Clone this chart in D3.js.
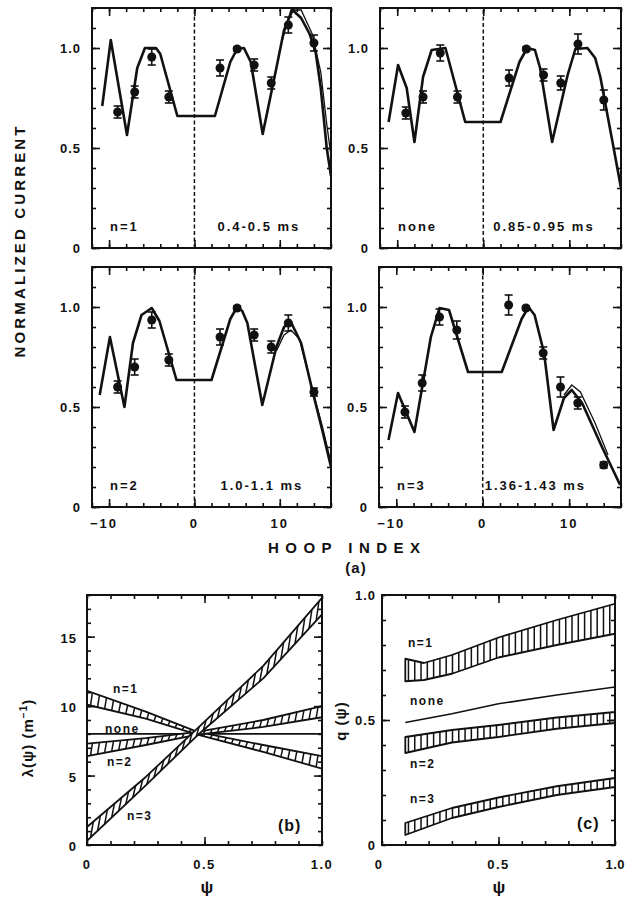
<!DOCTYPE html>
<html>
<head>
<meta charset="utf-8">
<script src="https://cdn.jsdelivr.net/npm/d3@7"></script>
<style>
  body { margin: 0; background: #fff; }
  svg { display: block; }
  text { font-family: "Liberation Sans", Arial, sans-serif; font-weight: bold; fill: #111; }
</style>
</head>
<body>
<svg id="fig" width="626" height="906"></svg>
<script>
// ---- panel (a): normalized current vs hoop index ----
var hoops = [-9, -7, -5, -3, 3, 5, 7, 9, 11, 14];

var measN1   = [0.68, 0.78, 0.955, 0.755, 0.90, 0.995, 0.915, 0.825, 1.115, 1.025];
var errN1    = [0.03, 0.03, 0.04, 0.03, 0.04, 0.01, 0.03, 0.03, 0.04, 0.04];
var measNone = [0.675, 0.755, 0.975, 0.755, 0.85, 0.995, 0.865, 0.825, 1.02, 0.74];
var errNone  = [0.03, 0.03, 0.04, 0.03, 0.04, 0.01, 0.03, 0.035, 0.05, 0.05];
var measN2   = [0.60, 0.70, 0.935, 0.735, 0.85, 0.995, 0.86, 0.80, 0.92, 0.575];
var errN2    = [0.03, 0.04, 0.04, 0.03, 0.04, 0.01, 0.03, 0.03, 0.04, 0.02];
var measN3   = [0.475, 0.62, 0.95, 0.885, 1.01, 0.995, 0.77, 0.60, 0.52, 0.21];
var errN3    = [0.03, 0.04, 0.04, 0.045, 0.05, 0.01, 0.03, 0.05, 0.03, 0.015];

// fitted profiles [hoop, current]
var fitN1 = [[-10.8,0.71],[-9.8,1.04],[-7.9,0.565],[-6.7,0.9],[-5.8,1.0],[-4.5,1.0],[-4.0,0.97],[-2.0,0.66],
  [2.4,0.66],[4.2,0.93],[5.0,0.995],[5.8,1.0],[6.6,0.93],[8.0,0.57],[9.6,0.9],[10.5,1.09],[11.5,1.19],[12.5,1.15],
  [13.5,1.07],[14.2,0.98],[14.8,0.8],[15.5,0.5],[16,0.36]];
var altN1 = [[10.3,1.04],[11.3,1.19],[12.5,1.19],[13.8,1.07],[14.8,0.88],[15.5,0.62],[16,0.46]];
var fitNone = [[-11.0,0.63],[-9.9,0.915],[-8.9,0.8],[-8.0,0.53],[-7.0,0.855],[-6.0,0.99],[-4.4,1.0],[-2.1,0.63],
  [2.0,0.63],[4.2,0.93],[5.1,1.0],[6.0,0.99],[6.6,0.9],[8.0,0.53],[9.8,0.865],[10.7,0.995],[12.1,1.0],[13.0,0.95],
  [13.6,0.855],[15.1,0.51],[16,0.3]];
var fitN2 = [[-11.1,0.56],[-9.9,0.85],[-8.2,0.5],[-7.2,0.82],[-6.2,0.96],[-5.0,0.995],[-4.1,0.93],[-2.1,0.635],
  [2.0,0.635],[4.2,0.94],[5.0,1.0],[5.6,0.98],[6.2,0.92],[7.95,0.51],[9.6,0.8],[10.5,0.9],[11.3,0.925],[12.5,0.82],
  [13.8,0.585],[15,0.38],[16,0.2]];
var altN2 = [[9.6,0.78],[10.5,0.86],[11.3,0.885],[12.3,0.84],[13.5,0.64],[15,0.4],[16,0.22]];
var fitN3 = [[-10.9,0.335],[-9.8,0.57],[-7.9,0.375],[-6.8,0.65],[-6.0,0.85],[-5.0,0.995],[-3.9,0.985],[-1.7,0.675],
  [2.2,0.675],[4.5,0.94],[5.3,1.0],[6.0,0.96],[7.1,0.77],[8.2,0.385],[9.4,0.545],[10.3,0.585],[11.5,0.52],[13.8,0.3],[15.9,0.11]];
var altN3 = [[9.4,0.56],[10.3,0.61],[11.3,0.575],[13,0.42],[14.5,0.26]];

var modeTags  = ["n=1", "none", "n=2", "n=3"];
var timeTags  = ["0.4-0.5 ms", "0.85-0.95 ms", "1.0-1.1 ms", "1.36-1.43 ms"];
var hoopTicks = [-10, 0, 10];
var curTicks  = [0, 0.5, 1.0];
var curTickText = ["0", "0.5", "1.0"];

// ---- panel (b): lambda(psi) bands ----
var psiB = [0, 0.25, 0.47, 0.75, 1.0];
var lamN1Up = [11.1, 9.6, 8.15, 7.2, 6.4],  lamN1Lo = [10.1, 9.1, 7.95, 6.7, 5.5];
var lamN2Up = [7.3, 7.7, 8.15, 9.0, 10.0],  lamN2Lo = [6.4, 7.2, 7.95, 8.5, 9.2];
var lamN3Up = [1.3, 4.9, 8.4, 12.9, 17.8],  lamN3Lo = [0.3, 4.3, 7.9, 12.0, 16.6];
var lamNone = [8.0, 8.0, 8.0, 8.0, 8.0];
var lamTicks = [0, 5, 10, 15];

// ---- panel (c): q(psi) bands ----
var psiC  = [0.1, 0.3, 0.5, 0.75, 1.0];
var psiC1 = [0.1, 0.18, 0.3, 0.5, 0.75, 1.0];
var qN1Up = [0.745, 0.728, 0.76, 0.83, 0.9, 0.965], qN1Lo = [0.655, 0.66, 0.685, 0.75, 0.8, 0.845];
var qN2Up = [0.432, 0.46, 0.48, 0.51, 0.532], qN2Lo = [0.368, 0.41, 0.432, 0.465, 0.488];
var qN3Up = [0.088, 0.148, 0.19, 0.235, 0.268], qN3Lo = [0.04, 0.108, 0.152, 0.2, 0.232];
var qNone = [0.49, 0.525, 0.565, 0.6, 0.632];
var qTicks = [0, 0.5, 1.0];
var psiTicks = [0, 0.5, 1.0];
var psiTickText = ["0", "0.5", "1.0"];

var svg = d3.select("#fig");
var INK = "#111";

function tickBox(g, x, y, xMinor, xMajor, yMinor, yMajor) {
  var xr = x.range(), yr = y.range();
  function add(axis, tr) {
    g.append("g").attr("transform", tr).call(axis)
      .call(function (s) { s.select(".domain").remove(); s.selectAll("text").remove(); })
      .call(function (s) { s.selectAll("line").attr("stroke", INK).attr("stroke-width", 1.6); });
  }
  add(d3.axisBottom(x).tickValues(xMinor).tickSize(-4), "translate(0," + yr[0] + ")");
  add(d3.axisBottom(x).tickValues(xMajor).tickSize(-8), "translate(0," + yr[0] + ")");
  add(d3.axisTop(x).tickValues(xMinor).tickSize(-4), "translate(0," + yr[1] + ")");
  add(d3.axisTop(x).tickValues(xMajor).tickSize(-8), "translate(0," + yr[1] + ")");
  add(d3.axisLeft(y).tickValues(yMinor).tickSize(-4), "translate(" + xr[0] + ",0)");
  add(d3.axisLeft(y).tickValues(yMajor).tickSize(-8), "translate(" + xr[0] + ",0)");
  add(d3.axisRight(y).tickValues(yMinor).tickSize(-4), "translate(" + xr[1] + ",0)");
  add(d3.axisRight(y).tickValues(yMajor).tickSize(-8), "translate(" + xr[1] + ",0)");
  g.append("rect").attr("x", xr[0]).attr("y", yr[1])
    .attr("width", xr[1] - xr[0]).attr("height", yr[0] - yr[1])
    .attr("fill", "none").attr("stroke", INK).attr("stroke-width", 2);
}

// ---------- top four panels ----------
var panels = [
  {box: [92, 331, 8, 248],   fit: fitN1,   alt: altN1, meas: measN1,   err: errN1,   timeDx: 23, labels: false},
  {box: [380, 621, 8, 248],  fit: fitNone, alt: null,  meas: measNone, err: errNone, timeDx: 10, labels: false},
  {box: [92, 331, 267, 507], fit: fitN2,   alt: altN2, meas: measN2,   err: errN2,   timeDx: 26, labels: true},
  {box: [379, 621, 267, 507], fit: fitN3,  alt: altN3, meas: measN3,   err: errN3,   timeDx: 2,  labels: true}
];

panels.forEach(function (p, i) {
  var g = svg.append("g");
  var x = d3.scaleLinear().domain([-12, 16]).range([p.box[0], p.box[1]]);
  var y = d3.scaleLinear().domain([0, 1.2]).range([p.box[3], p.box[2]]);
  var clipId = "clipA" + i;
  g.append("clipPath").attr("id", clipId).append("rect")
    .attr("x", p.box[0]).attr("y", p.box[2]).attr("width", p.box[1] - p.box[0]).attr("height", p.box[3] - p.box[2]);

  // dashed line at hoop 0
  g.append("line").attr("x1", x(0)).attr("x2", x(0)).attr("y1", y(0)).attr("y2", y(1.2))
    .attr("stroke", INK).attr("stroke-width", 1.5).attr("stroke-dasharray", "4,2.5");

  var line = d3.line().x(function (d) { return x(d[0]); }).y(function (d) { return y(d[1]); });
  var plot = g.append("g").attr("clip-path", "url(#" + clipId + ")");
  if (p.alt) {
    plot.append("path").attr("d", line(p.alt)).attr("fill", "none")
      .attr("stroke", INK).attr("stroke-width", 1.3);
  }
  plot.append("path").attr("d", line(p.fit)).attr("fill", "none")
    .attr("stroke", INK).attr("stroke-width", 2.6).attr("stroke-linejoin", "round");

  // measured points with error bars
  hoops.forEach(function (h, k) {
    var v = p.meas[k], e = p.err[k];
    plot.append("line").attr("x1", x(h)).attr("x2", x(h)).attr("y1", y(v - e)).attr("y2", y(v + e))
      .attr("stroke", INK).attr("stroke-width", 1.6);
    [v - e, v + e].forEach(function (c) {
      plot.append("line").attr("x1", x(h) - 4).attr("x2", x(h) + 4).attr("y1", y(c)).attr("y2", y(c))
        .attr("stroke", INK).attr("stroke-width", 1.6);
    });
    plot.append("circle").attr("cx", x(h)).attr("cy", y(v)).attr("r", 4.5).attr("fill", INK);
  });

  tickBox(g, x, y, d3.range(-12, 17, 2), hoopTicks, d3.range(0, 1.21, 0.1), curTicks);

  // y tick labels
  curTicks.forEach(function (t, k) {
    g.append("text").attr("x", p.box[0] - 11).attr("y", y(t) + 5)
      .attr("text-anchor", "end").style("font-size", "13px").style("letter-spacing", "1px")
      .text(curTickText[k]);
  });
  if (p.labels) {
    hoopTicks.forEach(function (t) {
      g.append("text").attr("x", x(t) + (t < 0 ? -5 : 0)).attr("y", p.box[3] + 21)
        .attr("text-anchor", "middle").style("font-size", "13px").style("letter-spacing", "2px")
        .text(t < 0 ? "\u2212" + Math.abs(t) : String(t));
    });
  }
  g.append("text").attr("x", p.box[0] + 18).attr("y", p.box[3] - 17)
    .style("font-size", "13px").style("letter-spacing", "2px").text(modeTags[i]);
  g.append("text").attr("x", x(0) + p.timeDx).attr("y", p.box[3] - 17)
    .style("font-size", "13px").style("letter-spacing", "2px").text(timeTags[i]);
});

svg.append("text").attr("transform", "translate(25,242) rotate(-90)")
  .attr("text-anchor", "middle").attr("textLength", 231).attr("lengthAdjust", "spacing")
  .style("font-size", "15px").text("NORMALIZED CURRENT");
svg.append("text").attr("x", 344).attr("y", 553)
  .attr("text-anchor", "middle").attr("textLength", 152).attr("lengthAdjust", "spacing")
  .style("font-size", "15px").text("HOOP INDEX");
svg.append("text").attr("x", 356).attr("y", 573)
  .attr("text-anchor", "middle").style("font-size", "15px").style("letter-spacing", "1px").text("(a)");

// ---------- bands ----------
function drawBand(g, x, y, psi, up, lo, step, slant) {
  var uS = d3.scaleLinear().domain(psi).range(up);
  var lS = d3.scaleLinear().domain(psi).range(lo);
  var area = d3.area().x(function (d) { return x(d); })
    .y0(function (d) { return y(lS(d)); }).y1(function (d) { return y(uS(d)); });
  g.append("path").attr("d", area(psi)).attr("fill", "#fff")
    .attr("stroke", INK).attr("stroke-width", 1.8).attr("stroke-linejoin", "round");
  var last = psi[psi.length - 1];
  d3.range(psi[0] + step / 2, last - slant, step).forEach(function (s) {
    g.append("line").attr("x1", x(s)).attr("y1", y(lS(s)))
      .attr("x2", x(s + slant)).attr("y2", y(uS(s + slant)))
      .attr("stroke", INK).attr("stroke-width", 1.5);
  });
}

function smallLabel(g, xx, yy, txt) {
  g.append("text").attr("x", xx).attr("y", yy)
    .style("font-size", "12px").style("letter-spacing", "1.5px").text(txt);
}

// ---------- panel (b) ----------
(function () {
  var g = svg.append("g");
  var x = d3.scaleLinear().domain([0, 1]).range([87, 322]);
  var y = d3.scaleLinear().domain([0, 18]).range([845, 595]);
  g.append("clipPath").attr("id", "clipB").append("rect")
    .attr("x", 87).attr("y", 595).attr("width", 235).attr("height", 250);
  var plot = g.append("g").attr("clip-path", "url(#clipB)");
  var line = d3.line().x(function (d, k) { return x(psiB[k]); }).y(function (d) { return y(d); });
  plot.append("path").attr("d", line(lamNone)).attr("fill", "none").attr("stroke", INK).attr("stroke-width", 1.6);
  drawBand(plot, x, y, psiB, lamN1Up, lamN1Lo, 0.03, 0.008);
  drawBand(plot, x, y, psiB, lamN2Up, lamN2Lo, 0.03, 0.008);
  drawBand(plot, x, y, psiB, lamN3Up, lamN3Lo, 0.03, 0.012);

  tickBox(g, x, y, d3.range(0, 1.01, 0.1), [0.5], d3.range(0, 18.1, 1), [5, 10, 15]);
  lamTicks.forEach(function (t) {
    g.append("text").attr("x", 77).attr("y", y(t) + 6).attr("text-anchor", "end")
      .style("font-size", "13px").style("letter-spacing", "1px").text(t);
  });
  psiTicks.forEach(function (t, k) {
    g.append("text").attr("x", x(t)).attr("y", 869).attr("text-anchor", "middle")
      .style("font-size", "13px").style("letter-spacing", "1.5px").text(psiTickText[k]);
  });
  smallLabel(g, 113, 693, "n=1");
  smallLabel(g, 105, 733, "none");
  smallLabel(g, 107, 766, "n=2");
  smallLabel(g, 127, 820, "n=3");
  g.append("text").attr("x", 278).attr("y", 831).style("font-size", "16px").style("letter-spacing", "1px").text("(b)");
  g.append("text").attr("transform", "translate(33,738) rotate(-90)").attr("text-anchor", "middle")
    .style("font-size", "15px").style("letter-spacing", "1px")
    .html("\u03bb(\u03c8) (m<tspan dy='-6' style='font-size:10px'>\u2212</tspan><tspan style='font-size:10px'>1</tspan><tspan dy='6'>)</tspan>");
  g.append("text").attr("x", 207).attr("y", 893).attr("text-anchor", "middle")
    .style("font-size", "17px").text("\u03c8");
})();

// ---------- panel (c) ----------
(function () {
  var g = svg.append("g");
  var x = d3.scaleLinear().domain([0, 1]).range([382, 615]);
  var y = d3.scaleLinear().domain([0, 1]).range([845, 595]);
  var line = d3.line().x(function (d, k) { return x(psiC[k]); }).y(function (d) { return y(d); });
  g.append("path").attr("d", line(qNone)).attr("fill", "none").attr("stroke", INK).attr("stroke-width", 1.6);
  drawBand(g, x, y, psiC1, qN1Up, qN1Lo, 0.027, 0);
  drawBand(g, x, y, psiC, qN2Up, qN2Lo, 0.027, 0);
  drawBand(g, x, y, psiC, qN3Up, qN3Lo, 0.027, 0);

  tickBox(g, x, y, d3.range(0, 1.01, 0.1), [0.5], d3.range(0, 1.01, 0.1), [0.5]);
  qTicks.forEach(function (t, k) {
    g.append("text").attr("x", 376).attr("y", y(t) + 5).attr("text-anchor", "end")
      .style("font-size", "13px").style("letter-spacing", "1px").text(psiTickText[k]);
  });
  psiTicks.forEach(function (t, k) {
    var anchor = k === 2 ? "end" : "middle";
    var xx = k === 2 ? 625 : x(t) - (k === 0 ? 3 : 0);
    g.append("text").attr("x", xx).attr("y", 869).attr("text-anchor", anchor)
      .style("font-size", "13px").style("letter-spacing", k === 2 ? "0.5px" : "1.5px").text(psiTickText[k]);
  });
  smallLabel(g, 408, 647, "n=1");
  smallLabel(g, 410, 705, "none");
  smallLabel(g, 410, 768, "n=2");
  smallLabel(g, 410, 803, "n=3");
  g.append("text").attr("x", 577).attr("y", 829).style("font-size", "16px").style("letter-spacing", "1px").text("(c)");
  g.append("text").attr("transform", "translate(346,721) rotate(-90)").attr("text-anchor", "middle")
    .style("font-size", "15px").style("letter-spacing", "1px").text("q (\u03c8)");
  g.append("text").attr("x", 499).attr("y", 893).attr("text-anchor", "middle")
    .style("font-size", "17px").text("\u03c8");
})();
</script>
</body>
</html>
